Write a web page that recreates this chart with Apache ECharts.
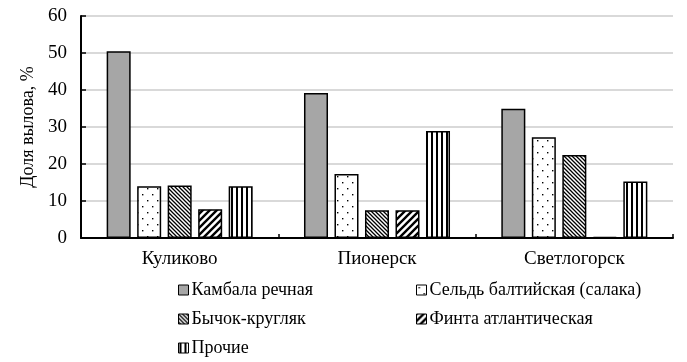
<!DOCTYPE html>
<html><head><meta charset="utf-8">
<script src="https://cdn.jsdelivr.net/npm/echarts@6/dist/echarts.min.js"></script>
<style>html,body{margin:0;padding:0;background:#fff}#c{width:687px;height:362px}</style>
</head><body><div id="c"></div>
<script>
var categories = ['Куликово', 'Пионерск', 'Светлогорск'];
var seriesNames = ['Камбала речная', 'Сельдь балтийская (салака)', 'Бычок-кругляк', 'Финта атлантическая', 'Прочие'];
var kambala = [50.5, 39.2, 34.9];
var seld = [14.0, 17.3, 27.2];
var bychok = [14.2, 7.5, 22.4];
var finta = [7.8, 7.5, 0.3];
var prochie = [14.0, 28.9, 15.3];
var yTicks = [0, 10, 20, 30, 40, 50, 60];

function tile(w, h, draw) {
  var c = document.createElement('canvas');
  c.width = w; c.height = h;
  var g = c.getContext('2d');
  g.fillStyle = '#fff'; g.fillRect(0, 0, w, h);
  g.fillStyle = '#000'; g.strokeStyle = '#000';
  draw(g, w, h);
  return c;
}
var dots = tile(10, 12, function (g) {
  g.fillRect(2, 2, 1.4, 1.4);
  g.fillRect(7, 8, 1.4, 1.4);
});
var back = tile(4, 4, function (g, w, h) {
  g.lineWidth = 1.3;
  g.beginPath();
  g.moveTo(-1, -1); g.lineTo(w + 1, h + 1);
  g.moveTo(-1, h - 1); g.lineTo(1, h + 1);
  g.moveTo(w - 1, -1); g.lineTo(w + 1, 1);
  g.stroke();
});
var fwd = tile(7, 7, function (g, w, h) {
  g.lineWidth = 2.4;
  g.beginPath();
  g.moveTo(-1, h + 1); g.lineTo(w + 1, -1);
  g.moveTo(-2, 2); g.lineTo(2, -2);
  g.moveTo(w - 2, h + 2); g.lineTo(w + 2, h - 2);
  g.stroke();
});
var vert = tile(5, 4, function (g) {
  g.fillRect(1, 0, 2, 4);
});
var fills = ['#a6a6a6', {image: dots, repeat: 'repeat'}, {image: back, repeat: 'repeat'}, {image: fwd, repeat: 'repeat'}, {image: vert, repeat: 'repeat'}];
var dataArr = [kambala, seld, bychok, finta, prochie];

var series = seriesNames.map(function (n, i) {
  return {
    name: n, type: 'bar', data: dataArr[i],
    barGap: '27%', barCategoryGap: '26%',
    itemStyle: {color: fills[i], borderColor: '#000', borderWidth: 1.5},
    emphasis: {disabled: true}
  };
});

var font = "'Liberation Serif', 'Times New Roman', 'DejaVu Serif', serif";
function legendCfg(left, names) {
  return {
    orient: 'vertical', left: left, top: 281, padding: 0, itemGap: 11,
    itemWidth: 10, itemHeight: 10, icon: 'rect', height: 120,
    data: names,
    textStyle: {fontFamily: font, fontSize: 18, color: '#000', padding: [0, 0, 0, -2]},
    itemStyle: {borderColor: '#000', borderWidth: 1}
  };
}
var chart = echarts.init(document.getElementById('c'), null, {renderer: 'canvas'});
chart.setOption({
  animation: false,
  textStyle: {fontFamily: font},
  grid: {left: 81, right: 14, top: 16, bottom: 124, containLabel: false},
  legend: [
    legendCfg(178, [seriesNames[0], seriesNames[2], seriesNames[4]]),
    legendCfg(416, [seriesNames[1], seriesNames[3]])
  ],
  xAxis: {
    type: 'category', data: categories,
    axisLine: {lineStyle: {color: '#000', width: 2}},
    axisTick: {show: true, inside: true, length: 4, lineStyle: {color: '#000', width: 1.5}},
    axisLabel: {fontFamily: font, fontSize: 19, color: '#000', margin: 12}
  },
  yAxis: {
    type: 'value', min: 0, max: 60, interval: 10,
    name: 'Доля вылова, %', nameLocation: 'middle', nameGap: 33, nameRotate: 90,
    nameTextStyle: {fontFamily: font, fontSize: 18, color: '#000'},
    axisLine: {show: true, lineStyle: {color: '#000', width: 2}},
    axisTick: {show: true, inside: true, length: 5, lineStyle: {color: '#000', width: 1.5}},
    splitLine: {lineStyle: {color: '#d9d9d9', width: 2}},
    axisLabel: {fontFamily: font, fontSize: 19, color: '#000', margin: 14,
      formatter: function (v) { return yTicks.indexOf(v) >= 0 ? String(v) : ''; }}
  },
  series: series
});
</script></body></html>
